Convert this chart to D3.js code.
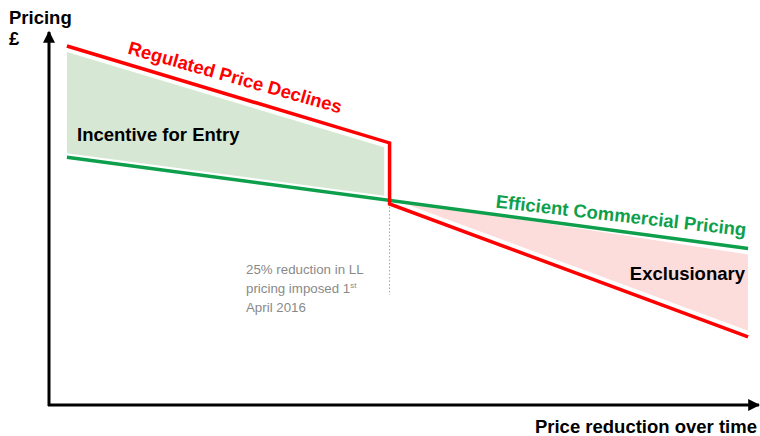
<!DOCTYPE html>
<html>
<head>
<meta charset="utf-8">
<script src="https://cdn.jsdelivr.net/npm/d3@7"></script>
<style>
  body { margin: 0; background: #fff; }
  text { font-family: "Liberation Sans", Arial, sans-serif; }
</style>
</head>
<body>
<svg id="chart"></svg>
<script>
// time steps (arbitrary units) and pricing index
const regTime = [1, 19, 19, 39]
const regPrice = [100, 73, 56, 19]
const effTime = [1, 39]
const effPrice = [69, 43.6]
const dropTime = 19
const noteLines = ['25% reduction in LL', 'pricing imposed 1', 'April 2016']

const width = 760, height = 436
const svg = d3.select('#chart').attr('width', width).attr('height', height)

const x = d3.scaleLinear().domain([0, 40]).range([49, 766])
const y = d3.scaleLinear().domain([0, 100]).range([405, 46])

const red = '#ff0000'
const green = '#0e9f4c'
const gap = 6

const regData = regTime.map((t, i) => ({ t, v: regPrice[i] }))
const effData = effTime.map((t, i) => ({ t, v: effPrice[i] }))

// interpolate along a polyline (first segment before drop, last after)
const effAt = t => effPrice[0] + (t - effTime[0]) / (effTime[1] - effTime[0]) * (effPrice[1] - effPrice[0])
const regAt = t => t <= dropTime
  ? regPrice[0] + (t - regTime[0]) / (regTime[1] - regTime[0]) * (regPrice[1] - regPrice[0])
  : regPrice[2] + (t - regTime[2]) / (regTime[3] - regTime[2]) * (regPrice[3] - regPrice[2])

// Fills
svg.append('path')
  .datum([regTime[0], dropTime - 0.3])
  .attr('fill', '#d6e8d4')
  .attr('d', d3.area().x(d => x(d))
    .y0(d => y(effAt(d)) - 4)
    .y1(d => y(regAt(d)) + gap))

svg.append('path')
  .datum([dropTime + 0.3, regTime[3]])
  .attr('fill', '#fddcdc')
  .attr('d', d3.area().x(d => x(d))
    .y0(d => Math.min(y(effAt(d)) + gap, y(regAt(d)) - gap))
    .y1(d => y(regAt(d)) - gap))

// Lines
const line = d3.line().x(d => x(d.t)).y(d => y(d.v))
svg.append('path').datum(effData)
  .attr('fill', 'none').attr('stroke', green).attr('stroke-width', 3.5)
  .attr('d', line)
svg.append('path').datum(regData)
  .attr('fill', 'none').attr('stroke', red).attr('stroke-width', 3.5)
  .attr('stroke-linejoin', 'miter')
  .attr('d', line)

// dotted marker at the drop
svg.append('line')
  .attr('x1', x(dropTime)).attr('x2', x(dropTime))
  .attr('y1', y(regPrice[2]) + 3).attr('y2', 295)
  .attr('stroke', '#a0a0a0').attr('stroke-width', 1)
  .attr('stroke-dasharray', '1.5,2')

// Axes with arrows
const defs = svg.append('defs')
defs.append('marker')
  .attr('id', 'arrow')
  .attr('viewBox', '0 0 10 10')
  .attr('refX', 9).attr('refY', 5)
  .attr('markerWidth', 4).attr('markerHeight', 4)
  .attr('orient', 'auto')
  .append('path').attr('d', 'M0,0 L10,5 L0,10 Z').attr('fill', '#000')

svg.append('line')
  .attr('x1', x(0)).attr('x2', x(0))
  .attr('y1', y(0) + 1).attr('y2', 32)
  .attr('stroke', '#000').attr('stroke-width', 3)
  .attr('marker-end', 'url(#arrow)')
svg.append('line')
  .attr('x1', x(0) - 1).attr('x2', 759)
  .attr('y1', y(0)).attr('y2', y(0))
  .attr('stroke', '#000').attr('stroke-width', 3)
  .attr('marker-end', 'url(#arrow)')

// Labels
const labelSize = 18.5
svg.append('text').attr('x', 9).attr('y', 24)
  .attr('font-size', labelSize).attr('font-weight', 'bold').text('Pricing')
svg.append('text').attr('x', 9).attr('y', 45)
  .attr('font-size', labelSize).attr('font-weight', 'bold').text('£')

svg.append('text').attr('x', 757).attr('y', 433)
  .attr('text-anchor', 'end')
  .attr('font-size', labelSize).attr('font-weight', 'bold').text('Price reduction over time')

function lineLabel(text, t, valueAt, color, dy, angle) {
  svg.append('text')
    .attr('transform', `translate(${x(t)},${y(valueAt(t))}) rotate(${angle})`)
    .attr('dy', dy)
    .attr('fill', color)
    .attr('font-size', labelSize).attr('font-weight', 'bold')
    .text(text)
}
lineLabel('Regulated Price Declines', 4.2, regAt, red, -10, 15.7)
lineLabel('Efficient Commercial Pricing', 24.85, effAt, green, -7, 6.5)

svg.append('text').attr('x', 77).attr('y', 141)
  .attr('font-size', labelSize).attr('font-weight', 'bold').text('Incentive for Entry')
svg.append('text').attr('x', 745).attr('y', 280)
  .attr('text-anchor', 'end')
  .attr('font-size', labelSize).attr('font-weight', 'bold').text('Exclusionary')

const note = svg.append('text').attr('fill', '#8a8a8a').attr('font-size', 13.3)
noteLines.forEach((s, i) => {
  note.append('tspan').attr('x', 246).attr('y', 274 + i * 19).text(s)
  if (i === 1) {
    note.append('tspan').attr('font-size', 8).attr('dy', -5).text('st')
  }
})
</script>
</body>
</html>
